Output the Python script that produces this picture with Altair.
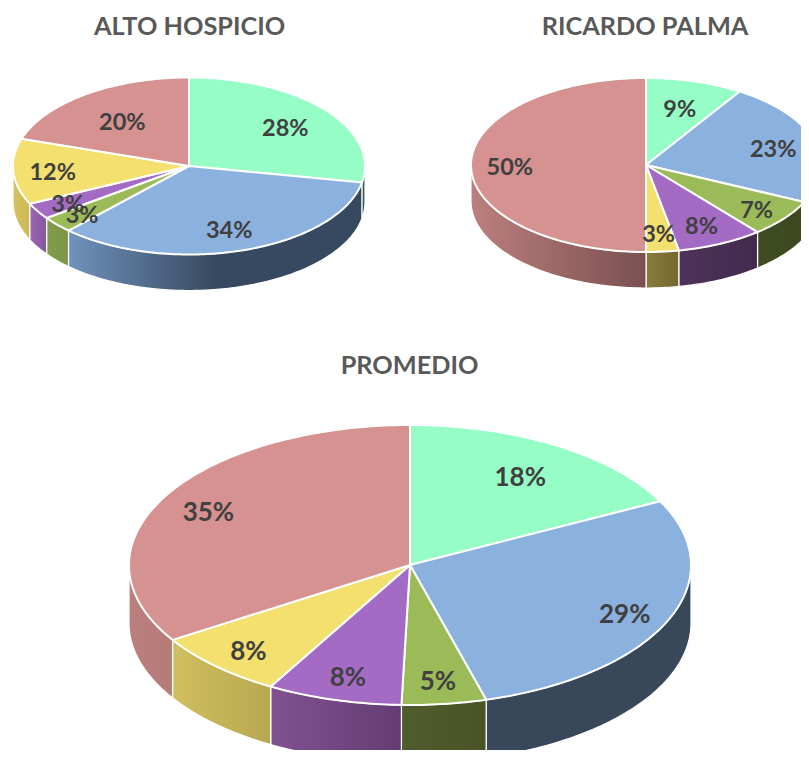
import math
import altair as alt
import pandas as pd

slices = ["a", "b", "c", "d", "e", "f"]
colors = ["#96FDC7", "#8BB1DE", "#9BBB59", "#A46BC4", "#F4E06F", "#D69191"]

alto_values = [28, 34, 3, 3, 12, 20]
palma_values = [9, 23, 7, 8, 3, 50]
promedio_values = [18, 29, 5, 8, 8, 35]

alto_sides = {
    "a": ["#2E5D47", "#2E5D47"], "b": ["#7092BC", "#374960", "#374960"],
    "c": ["#819C4B", "#7C9648"], "d": ["#9A65B1", "#8A55A0"], "e": ["#D6C160", "#CDB954"],
}
palma_sides = {
    "b": ["#384659", "#384659"], "c": ["#3F4C21", "#3D4820"], "d": ["#4F3259", "#422A4E"],
    "e": ["#887C3F", "#75672F"], "f": ["#BC7F7D", "#7A5050"],
}
promedio_sides = {
    "b": ["#384759", "#384759"], "c": ["#4F5C2D", "#4A5325"], "d": ["#805291", "#643C72"],
    "e": ["#CFBF60", "#B8A850"], "f": ["#BB807E", "#B67B79"],
}


def arc(t0, t1):
    n = max(2, int(abs(t1 - t0)) + 1)
    return [t0 + (t1 - t0) * i / (n - 1) for i in range(n)]


def gradient(stops):
    k = len(stops) - 1
    return alt.Gradient(
        gradient="linear", x1=0, x2=1, y1=0, y2=0,
        stops=[alt.GradientStop(color=c, offset=i / k) for i, c in enumerate(stops)],
    )


def polygon(layers_x, layers_y, fill, xs, ys, sw):
    df = pd.DataFrame({"x": layers_x, "y": layers_y, "i": range(len(layers_x))})
    return alt.Chart(df).mark_line(
        fill=fill, stroke="white", strokeWidth=sw, interpolate="linear-closed", clip=True, strokeJoin="round"
    ).encode(
        x=alt.X("x:Q", scale=xs, axis=None),
        y=alt.Y("y:Q", scale=ys, axis=None),
        order=alt.Order("i:Q"),
    )


def panel(title, values, sides, radial, left, right, top, bottom, cx, cy, rx, ry, depth,
          font, title_font, title_dx, title_offset):
    xs = alt.Scale(domain=[(left - cx) / rx, (right - cx) / rx], nice=False, zero=False)
    ys = alt.Scale(domain=[(cy - bottom) / ry, (cy - top) / ry], nice=False, zero=False)
    d = depth / ry
    total = sum(values)
    layers = []
    start = 0.0
    spans = []
    for v in values:
        sweep = v / total * 360
        spans.append((start, start + sweep))
        start += sweep
    # side walls
    for s, (t0, t1) in zip(slices, spans):
        a, b = max(t0, 90), min(t1, 270)
        if b <= a or s not in sides:
            continue
        ts = arc(a, b)
        px = [math.sin(math.radians(t)) for t in ts]
        py = [math.cos(math.radians(t)) for t in ts]
        layers.append(polygon(px + px[::-1], py + [p - d for p in py[::-1]],
                              gradient(sides[s]), xs, ys, 1.2))
    # top faces
    for col, (t0, t1) in zip(colors, spans):
        ts = arc(t0, t1)
        px = [0.0] + [math.sin(math.radians(t)) for t in ts]
        py = [0.0] + [math.cos(math.radians(t)) for t in ts]
        layers.append(polygon(px, py, col, xs, ys, 2))
    # data labels at the mid-angle of each slice
    lx, ly, lt = [], [], []
    for v, r, (t0, t1) in zip(values, radial, spans):
        mid = math.radians((t0 + t1) / 2)
        lx.append(r * math.sin(mid))
        ly.append(r * math.cos(mid))
        lt.append(f"{v}%")
    text = alt.Chart(pd.DataFrame({"x": lx, "y": ly, "t": lt})).mark_text(
        font="Lato", fontWeight="bold", fontSize=font, color="#404040", baseline="middle", align="center", dy=3
    ).encode(
        x=alt.X("x:Q", scale=xs, axis=None),
        y=alt.Y("y:Q", scale=ys, axis=None),
        text="t:N",
    )
    layers.append(text)
    return alt.layer(*layers).properties(
        width=right - left, height=bottom - top,
        title=alt.TitleParams(title, font="Lato", fontWeight="bold", fontSize=title_font,
                              color="#595959", anchor="middle", dx=title_dx, offset=title_offset),
    )


alto = panel("ALTO HOSPICIO", alto_values, alto_sides,
             [0.71, 0.74, 0.81, 0.80, 0.776, 0.645],
             8, 371, 48, 296, 189, 166, 176, 88.5, 36, 23.5, 25.3, 0, 8)
palma = panel("RICARDO PALMA", palma_values, palma_sides,
              [0.69, 0.757, 0.80, 0.745, 0.77, 0.778],
              465, 801, 48, 296, 646, 165, 175, 87, 36, 23.5, 25.3, 12, 8)
promedio = panel("PROMEDIO", promedio_values, promedio_sides,
                 [0.752, 0.834, 0.818, 0.815, 0.833, 0.819],
                 8, 801, 388, 750, 410, 565, 281, 140, 58, 26, 25.3, 5, 9)

chart = alt.vconcat(alt.hconcat(alto, palma, spacing=94), promedio, spacing=57).properties(
    padding={"left": 0, "right": 0, "top": 6, "bottom": 0}
).configure_view(strokeWidth=0)

chart.save("out.html", embed_options={"renderer": "svg", "actions": False})
